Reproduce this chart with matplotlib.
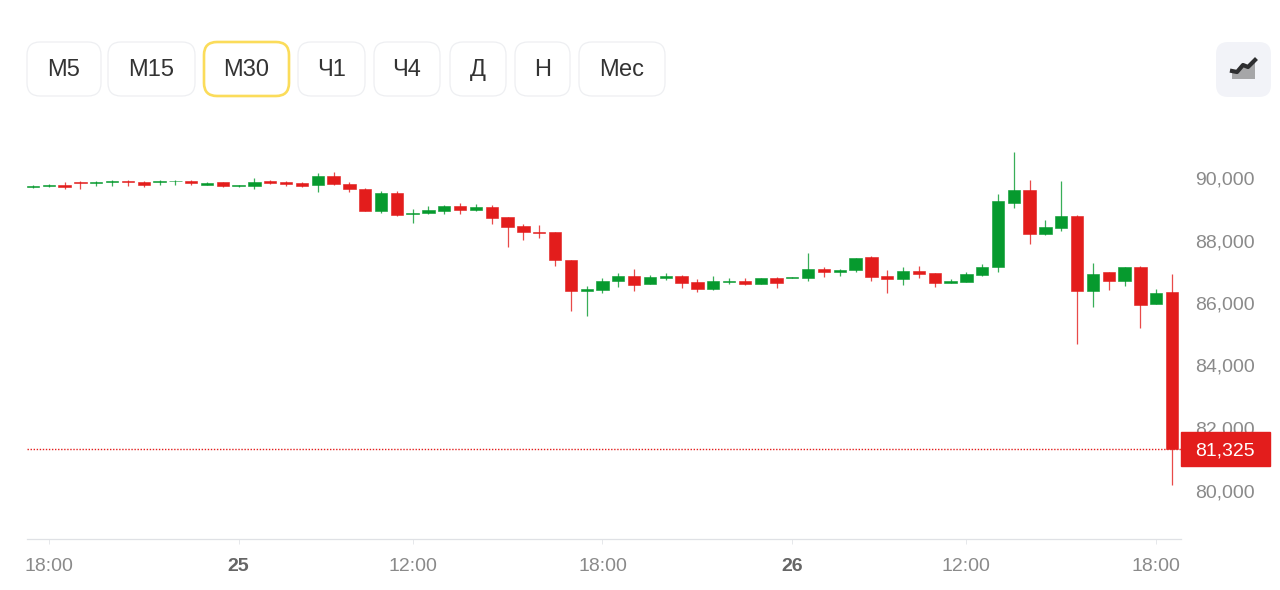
import numpy as np
import matplotlib.pyplot as plt
from matplotlib.patches import FancyBboxPatch, Rectangle, Polygon

plt.rcParams['font.family'] = ['Liberation Sans', 'DejaVu Sans']

# 30 minute candles
opens = [89700, 89730, 89770, 89870, 89840, 89870, 89920, 89880, 89860, 89890,
         89920, 89780, 89860, 89730, 89740, 89890, 89880, 89830, 89780, 90080,
         89820, 89660, 88960, 89510, 88840, 88880, 88950, 89100, 88980, 89060,
         88750, 88460, 88280, 88270, 87390, 86400, 86430, 86700, 86870, 86620,
         86790, 86880, 86660, 86460, 86680, 86690, 86620, 86800, 86800, 86810,
         87080, 86990, 87060, 87460, 86850, 86770, 87010, 86950, 86640, 86680,
         86900, 87150, 89210, 89630, 88220, 88410, 88800, 86400, 86980, 86700,
         87140, 85980, 86350]
highs = [89780, 89800, 89860, 89900, 89900, 89940, 89940, 89900, 89940, 89940,
         89940, 89870, 89870, 89770, 89990, 89950, 89910, 89860, 90150, 90180,
         89880, 89670, 89600, 89570, 89010, 89090, 89140, 89200, 89160, 89140,
         88750, 88520, 88500, 88280, 87390, 86540, 86790, 86960, 87090, 86900,
         86960, 86910, 86770, 86860, 86810, 86790, 86790, 86820, 86820, 87610,
         87140, 87100, 87450, 87490, 87050, 87140, 87170, 86950, 86760, 86990,
         87250, 89480, 90830, 89950, 88660, 89890, 88810, 87270, 86980, 87160,
         87200, 86450, 86920]
lows = [89680, 89700, 89650, 89640, 89730, 89730, 89740, 89720, 89770, 89780,
        89770, 89770, 89720, 89720, 89640, 89820, 89740, 89710, 89560, 89780,
        89550, 88940, 88870, 88800, 88570, 88850, 88850, 88850, 88930, 88540,
        87800, 88030, 88080, 87200, 85750, 85600, 86320, 86510, 86380, 86600,
        86750, 86480, 86350, 86420, 86600, 86580, 86610, 86480, 86790, 86700,
        86820, 86860, 87000, 86700, 86330, 86580, 86800, 86510, 86640, 86680,
        86860, 87000, 89040, 87900, 88180, 88320, 84700, 85880, 86420, 86530,
        85190, 85960, 80180]
closes = [89760, 89770, 89720, 89840, 89880, 89920, 89870, 89770, 89920, 89920,
          89840, 89850, 89740, 89770, 89880, 89840, 89820, 89740, 90080, 89810,
          89650, 88960, 89510, 88830, 88870, 88970, 89090, 88980, 89070, 88730,
          88440, 88260, 88250, 87380, 86400, 86440, 86720, 86850, 86580, 86820,
          86880, 86640, 86460, 86690, 86720, 86610, 86790, 86640, 86820, 87080,
          86990, 87070, 87450, 86830, 86780, 87010, 86930, 86640, 86690, 86920,
          87160, 89250, 89630, 88220, 88430, 88800, 86400, 86920, 86700, 87140,
          85950, 86320, 81325]

price_ticks = [80000, 82000, 84000, 86000, 88000, 90000]
time_pos = [1, 13, 24, 36, 48, 59, 71]
time_labels = ['18:00', '25', '12:00', '18:00', '26', '12:00', '18:00']
buttons = ['М5', 'М15', 'М30', 'Ч1', 'Ч4', 'Д', 'Н', 'Мес']
active_button = 'М30'

GREEN = '#069a2e'
RED = '#e31d1c'
GREY = '#8a8a8a'

W, H = 1280, 590
fig = plt.figure(figsize=(W / 100, H / 100), dpi=100, facecolor='white')

# price panel, placed in pixels
ax = fig.add_axes([27 / W, 1 - 539 / H, (1181 - 27) / W, (539 - 130) / H])
ax.set_xlim(-0.38, 72.57)
ax.set_ylim(78448, 91536)

x = np.arange(len(opens))
o = np.array(opens)
c = np.array(closes)
colors = [GREEN if cl >= op else RED for op, cl in zip(opens, closes)]

ax.vlines(x, lows, highs, colors=colors, linewidth=0.9, alpha=0.8, zorder=2)
# the edge keeps the flat candles visible
ax.bar(x, np.abs(c - o), bottom=np.minimum(o, c), width=0.78, color=colors,
       edgecolor=colors, linewidth=0.4, zorder=3)

# last price line and its label
ax.axhline(closes[-1], color=RED, linewidth=1.0, linestyle=(0, (1, 1.2)), zorder=1)
ax.add_patch(Rectangle((1.0, closes[-1] - 540), 89 / (1181 - 27), 1080,
                       transform=ax.get_yaxis_transform(), color=RED, clip_on=False, zorder=5))
ax.text(1.0 + 44 / (1181 - 27), closes[-1], f'{closes[-1]:,}', transform=ax.get_yaxis_transform(),
        color='white', fontsize=14, ha='center', va='center_baseline', zorder=6)

ax.yaxis.tick_right()
ax.set_yticks(price_ticks)
ax.set_yticklabels([f'{p:,}' for p in price_ticks])
ax.tick_params(axis='y', length=0, pad=10.5, labelsize=14, labelcolor=GREY)

ax.set_xticks(time_pos)
ax.set_xticklabels(time_labels)
ax.tick_params(axis='x', length=3.5, width=0.7, color='#e6e8eb', pad=10, labelsize=14, labelcolor=GREY)
for lab in ax.get_xticklabels():
    if ':' not in lab.get_text():
        lab.set_fontweight('bold')
        lab.set_color('#666666')

for side in ['top', 'left', 'right']:
    ax.spines[side].set_visible(False)
ax.spines['bottom'].set_color('#dfe1e5')
ax.spines['bottom'].set_linewidth(0.9)

# toolbar on top, drawn in pixel coordinates
ui = fig.add_axes([0, 0, 1, 1], zorder=10)
ui.set_xlim(0, W)
ui.set_ylim(H, 0)
ui.axis('off')
ui.patch.set_alpha(0)

edges = [(27, 101), (108, 195), (204, 289), (298, 365), (374, 440), (450, 506), (515, 570), (579, 665)]
for name, (left, right) in zip(buttons, edges):
    active = name == active_button
    ui.add_patch(FancyBboxPatch((left + 13, 42 + 13), right - left - 26, 54 - 26,
                                boxstyle='round,pad=13', facecolor='white',
                                edgecolor='#fbdc5a' if active else '#eeeff2',
                                linewidth=1.9 if active else 0.9))
    ui.text((left + right) / 2, 70, name, fontsize=17, color='#333333', ha='center', va='center')

# chart type switch
ui.add_patch(FancyBboxPatch((1216 + 12, 42 + 12), 55 - 24, 55 - 24, boxstyle='round,pad=12',
                            facecolor='#f2f3f8', edgecolor='none'))
icon_x = [1232, 1237, 1243, 1248, 1255]
icon_y = [71, 72, 65, 67, 60]
ui.add_patch(Polygon(list(zip(icon_x, icon_y)) + [(1255, 79), (1232, 79)], closed=True,
                     facecolor='#a6a6a8', edgecolor='none'))
ui.plot(icon_x, icon_y, color='#2e2e30', linewidth=3, solid_joinstyle='round')

fig.savefig('out.png', dpi=100)
